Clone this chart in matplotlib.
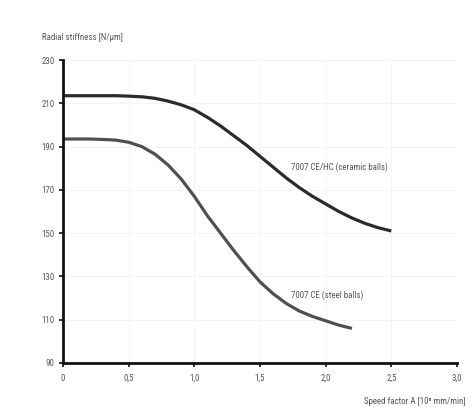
import matplotlib
matplotlib.use("Agg")
import matplotlib.pyplot as plt
from matplotlib import font_manager

# Speed factor A [10^6 mm/min]
speed = [0.0, 0.1, 0.2, 0.3, 0.4, 0.5, 0.6, 0.7, 0.8, 0.9, 1.0, 1.1, 1.2,
         1.3, 1.4, 1.5, 1.6, 1.7, 1.8, 1.9, 2.0, 2.1, 2.2, 2.3, 2.4, 2.5]
# Radial stiffness [N/um], hybrid bearing with ceramic balls
ceramic = [213.5, 213.5, 213.5, 213.5, 213.5, 213.3, 213.0, 212.3, 211.0, 209.3,
           207.0, 203.5, 199.5, 195.0, 190.5, 185.5, 180.5, 175.5, 171.0, 167.0,
           163.5, 160.0, 157.0, 154.5, 152.5, 151.0]
# Radial stiffness [N/um], bearing with steel balls (up to 2.2)
steel = [193.5, 193.5, 193.5, 193.3, 193.0, 192.0, 190.0, 186.5, 181.5, 175.0,
         167.0, 158.0, 150.0, 142.0, 134.5, 127.5, 122.0, 117.5, 114.0, 111.5,
         109.5, 107.5, 106.0]

x_ticks = [0, 0.5, 1.0, 1.5, 2.0, 2.5, 3.0]
x_tick_labels = ["0", "0,5", "1,0", "1,5", "2,0", "2,5", "3,0"]
y_ticks = [90, 110, 130, 150, 170, 190, 210, 230]

names = {f.name for f in font_manager.fontManager.ttflist}
family = "Roboto Condensed" if "Roboto Condensed" in names else "DejaVu Sans"
plt.rcParams["font.family"] = [family, "DejaVu Sans"]

text_color = "#555555"
fs = 6.4
fig = plt.figure(figsize=(4.74, 4.12), dpi=100)
ax = fig.add_axes([63 / 474, 1 - 363 / 412, (457 - 63) / 474, (363 - 60) / 412])

ax.plot(speed, ceramic, color="#2b2b2b", lw=2.3, solid_capstyle="butt")
ax.plot(speed[:len(steel)], steel, color="#505050", lw=2.3, solid_capstyle="butt")

ax.set_xlim(0, 3.0)
ax.set_ylim(90, 230)
ax.set_xticks(x_ticks)
ax.set_xticklabels(x_tick_labels)
ax.set_yticks(y_ticks)
ax.grid(True, color="#f3f3f3", lw=0.6)
ax.set_axisbelow(True)

for side in ("top", "right"):
    ax.spines[side].set_visible(False)
for side in ("left", "bottom"):
    ax.spines[side].set_linewidth(2.0)
    ax.spines[side].set_color("#111111")
ax.tick_params(axis="both", length=3, width=1.2, color="#111111",
               labelsize=fs, labelcolor=text_color)
ax.tick_params(axis="x", pad=5)
ax.tick_params(axis="y", pad=3)

fig.text(42 / 474, 1 - 37 / 412, "Radial stiffness [N/\u00b5m]", fontsize=fs,
         color=text_color, ha="left", va="center")
fig.text(466 / 474, 1 - 402 / 412, "Speed factor A [10\u2076 mm/min]", fontsize=fs,
         color=text_color, ha="right", va="center")

ax.text(1.735, 180.5, "7007 CE/HC (ceramic balls)", fontsize=fs, color=text_color,
        ha="left", va="center")
ax.text(1.735, 121.5, "7007 CE (steel balls)", fontsize=fs, color=text_color,
        ha="left", va="center")

fig.savefig("out.png", dpi=100, facecolor="white")
